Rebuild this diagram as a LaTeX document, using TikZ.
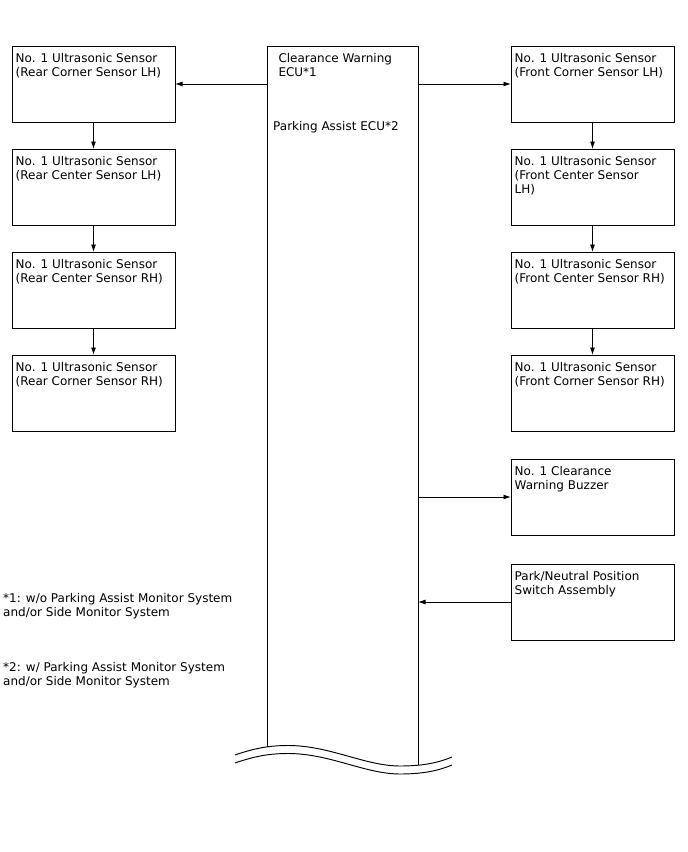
\documentclass[tikz,border=0pt]{standalone}
\usepackage{fontspec}
\setmainfont{DejaVu Sans}
\usetikzlibrary{arrows.meta,positioning}

\tikzset{
  unitbox/.style={draw, line width=0.95pt, minimum width=163pt, minimum height=76pt,
    inner sep=0pt, outer sep=0pt},
  boxtext/.style={anchor=north west, align=left, inner sep=0pt,
    font=\fontsize{12}{14}\selectfont},
  sig/.style={line width=0.95pt, -{Latex[length=7.5pt,width=5pt]}},
}

\begin{document}
\begin{tikzpicture}[x=1pt, y=-1pt, node distance=27pt]
  \useasboundingbox (0,0) rectangle (688,852);

  % ECU body (open at the bottom)
  \node[minimum width=151pt, minimum height=700pt, inner sep=0pt, outer sep=0pt,
    anchor=north west] (ecu) at (267,46) {};
  \coordinate (wl) at (267,746.5);
  \coordinate (wr) at (418,765);
  \draw[line width=0.95pt] (wl) -- (ecu.north west) -- (ecu.north east) -- (wr);
  \node[boxtext] (ecu1) at (278.3,53) {Clearance Warning\\ECU*1};
  \node[boxtext] (ecu2) at (273,121) {Parking Assist ECU*2};

  % break lines
  \draw[line width=0.95pt] (235,755) .. controls (255,748) and (270,745.5) .. (288,745.5)
    .. controls (330,745.5) and (365,766) .. (400,766)
    .. controls (425,766) and (440,762) .. (452,757);
  \draw[line width=0.95pt] (235,763) .. controls (255,756) and (270,753.5) .. (288,753.5)
    .. controls (330,753.5) and (365,774) .. (400,774)
    .. controls (425,774) and (440,770) .. (452,765);

  % Rear sensors
  \node[unitbox, anchor=north west] (rcl) at (12,46) {};
  \node[unitbox, below=of rcl] (rcnl) {};
  \node[unitbox, below=of rcnl] (rcnr) {};
  \node[unitbox, below=of rcnr] (rcr) {};
  \node[boxtext] (rcl-t) at ([shift={(3.5,7.5)}]rcl.north west)
    {No. 1 Ultrasonic Sensor\\(Rear Corner Sensor LH)};
  \node[boxtext] (rcnl-t) at ([shift={(3.5,7.5)}]rcnl.north west)
    {No. 1 Ultrasonic Sensor\\(Rear Center Sensor LH)};
  \node[boxtext] (rcnr-t) at ([shift={(3.5,7.5)}]rcnr.north west)
    {No. 1 Ultrasonic Sensor\\(Rear Center Sensor RH)};
  \node[boxtext] (rcr-t) at ([shift={(3.5,7.5)}]rcr.north west)
    {No. 1 Ultrasonic Sensor\\(Rear Corner Sensor RH)};

  % Front sensors
  \node[unitbox, anchor=north west] (fcl) at (511,46) {};
  \node[unitbox, below=of fcl] (fcnl) {};
  \node[unitbox, below=of fcnl] (fcnr) {};
  \node[unitbox, below=of fcnr] (fcr) {};
  \node[boxtext] (fcl-t) at ([shift={(3.5,7.5)}]fcl.north west)
    {No. 1 Ultrasonic Sensor\\(Front Corner Sensor LH)};
  \node[boxtext] (fcnl-t) at ([shift={(3.5,7.5)}]fcnl.north west)
    {No. 1 Ultrasonic Sensor\\(Front Center Sensor\\LH)};
  \node[boxtext] (fcnr-t) at ([shift={(3.5,7.5)}]fcnr.north west)
    {No. 1 Ultrasonic Sensor\\(Front Center Sensor RH)};
  \node[boxtext] (fcr-t) at ([shift={(3.5,7.5)}]fcr.north west)
    {No. 1 Ultrasonic Sensor\\(Front Corner Sensor RH)};

  % Buzzer and switch
  \node[unitbox, below=28pt of fcr] (buzz) {};
  \node[unitbox, below=29pt of buzz] (pnp) {};
  \node[boxtext] (buzz-t) at ([shift={(3.5,7.5)}]buzz.north west)
    {No. 1 Clearance\\Warning Buzzer};
  \node[boxtext] (pnp-t) at ([shift={(3.5,7.5)}]pnp.north west)
    {Park/Neutral Position\\Switch Assembly};

  % Signal lines
  \draw[sig] (ecu.west |- rcl.east) -- (rcl.east);
  \draw[sig] (ecu.east |- fcl.west) -- (fcl.west);
  \draw[sig] (ecu.east |- buzz.west) -- (buzz.west);
  \draw[sig] (pnp.west) -- (ecu.east |- pnp.west);
  \draw[sig] (rcl.south) -- (rcnl.north);
  \draw[sig] (rcnl.south) -- (rcnr.north);
  \draw[sig] (rcnr.south) -- (rcr.north);
  \draw[sig] (fcl.south) -- (fcnl.north);
  \draw[sig] (fcnl.south) -- (fcnr.north);
  \draw[sig] (fcnr.south) -- (fcr.north);

  % Notes
  \node[boxtext] (note1) at (3,593)
    {*1: w/o Parking Assist Monitor System\\and/or Side Monitor System};
  \node[boxtext] (note2) at (3,662)
    {*2: w/ Parking Assist Monitor System\\and/or Side Monitor System};
\end{tikzpicture}
\end{document}
